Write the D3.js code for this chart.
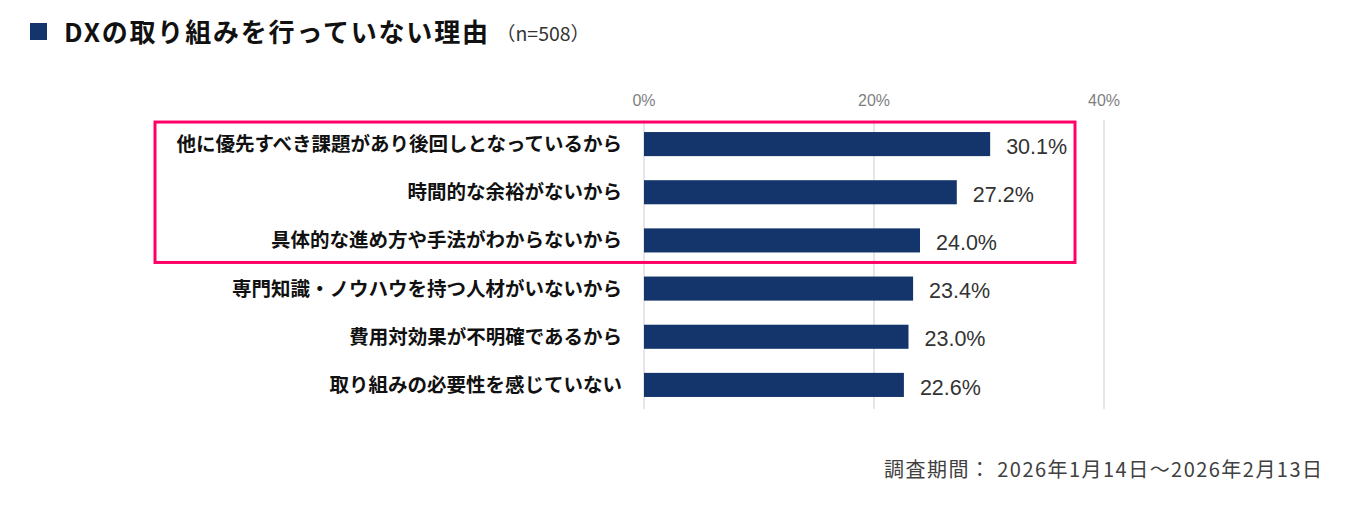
<!DOCTYPE html>
<html lang="ja">
<head>
<meta charset="UTF-8">
<title>DXの取り組みを行っていない理由</title>
<script src="https://d3js.org/d3.v7.min.js"></script>
<style>
  body { margin: 0; background: #fff; font-family: 'Noto Sans CJK JP', 'Noto Sans', sans-serif; }
  svg { display: block; }
</style>
</head>
<body>
<svg width="1359" height="514"></svg>
<script>
  // data
  const reasons = [
    "他に優先すべき課題があり後回しとなっているから",
    "時間的な余裕がないから",
    "具体的な進め方や手法がわからないから",
    "専門知識・ノウハウを持つ人材がいないから",
    "費用対効果が不明確であるから",
    "取り組みの必要性を感じていない"
  ];
  const shares = [30.1, 27.2, 24.0, 23.4, 23.0, 22.6];
  const tickValues = [0, 20, 40];
  const highlighted = 3; // first three rows get the pink frame

  const svg = d3.select("svg");
  const font = "'Noto Sans CJK JP', sans-serif";
  const latin = "Arial, 'Liberation Sans', sans-serif";

  const x = d3.scaleLinear().domain([0, 40]).range([644, 1104]);
  const y = d3.scaleBand().domain(reasons).range([120, 409]).paddingInner(0.5).paddingOuter(0.25);

  // title
  svg.append("rect").attr("x", 30).attr("y", 23).attr("width", 17).attr("height", 17).attr("fill", "#14346c");
  svg.append("text").attr("x", 64).attr("y", 42)
    .attr("textLength", 424).attr("lengthAdjust", "spacing")
    .style("font-family", font).style("font-size", "26px").style("font-weight", "700").attr("fill", "#111")
    .text("DXの取り組みを行っていない理由");
  svg.append("text").attr("x", 496).attr("y", 41)
    .attr("textLength", 94).attr("lengthAdjust", "spacingAndGlyphs")
    .style("font-family", font).style("font-size", "19px").attr("fill", "#333")
    .text("（n=508）");

  // gridlines + ticks
  const axis = svg.append("g");
  axis.selectAll("line").data(tickValues).join("line")
    .attr("x1", d => x(d)).attr("x2", d => x(d))
    .attr("y1", 120).attr("y2", 409)
    .attr("stroke", "#d9d9d9").attr("stroke-width", 1.3);
  axis.selectAll("text").data(tickValues).join("text")
    .attr("x", d => x(d)).attr("y", 106)
    .attr("text-anchor", "middle")
    .style("font-family", latin).style("font-size", "16px")
    .attr("fill", "#7f7f7f")
    .text(d => d + "%");

  // bars
  svg.append("g").selectAll("rect").data(reasons).join("rect")
    .attr("x", x(0)).attr("y", d => y(d))
    .attr("width", (d, i) => x(shares[i]) - x(0))
    .attr("height", y.bandwidth())
    .attr("fill", "#14346c");

  // category labels
  svg.append("g").selectAll("text").data(reasons).join("text")
    .attr("x", 622).attr("y", d => y(d) + y.bandwidth() / 2).attr("dy", "0.36em")
    .attr("text-anchor", "end")
    .style("font-family", font).style("font-size", "19.5px").style("font-weight", "700")
    .attr("fill", "#111")
    .text(d => d);

  // value labels
  svg.append("g").selectAll("text").data(reasons).join("text")
    .attr("x", (d, i) => x(shares[i]) + 16).attr("y", d => y(d) + y.bandwidth() / 2 + 2).attr("dy", "0.36em")
    .style("font-family", latin).style("font-size", "21.5px")
    .attr("fill", "#333")
    .text((d, i) => shares[i].toFixed(1) + "%");

  // pink highlight frame
  const topBand = y(reasons[0]), lastBand = y(reasons[highlighted - 1]);
  svg.append("rect")
    .attr("x", 155).attr("y", topBand - 10)
    .attr("width", 1075 - 155)
    .attr("height", lastBand + y.bandwidth() + 10 - (topBand - 10))
    .attr("fill", "none").attr("stroke", "#ff0066").attr("stroke-width", 3);

  // footer
  svg.append("text").attr("x", 1322).attr("y", 477).attr("text-anchor", "end")
    .attr("textLength", 438).attr("lengthAdjust", "spacing")
    .style("font-family", font).style("font-size", "20px").attr("fill", "#404040")
    .text("調査期間： 2026年1月14日～2026年2月13日");
</script>
</body>
</html>
